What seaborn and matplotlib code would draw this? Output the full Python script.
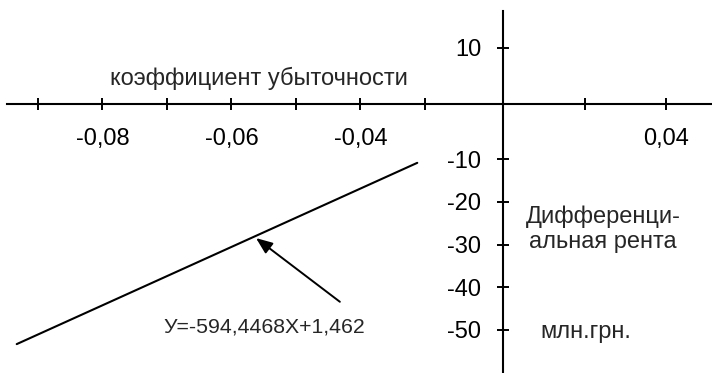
import numpy as np
import seaborn as sns
import matplotlib.pyplot as plt

# regression line
line_x = [-0.0933, -0.0312]
line_y = [-53.3, -10.9]

x_ticks = [-0.09, -0.08, -0.07, -0.06, -0.05, -0.04, -0.03, 0.02, 0.04]
x_tick_labels = ["", "-0,08", "", "-0,06", "", "-0,04", "", "", "0,04"]
y_ticks = [10, -10, -20, -30, -40, -50]
y_tick_labels = ["10", "-10", "-20", "-30", "-40", "-50"]

# arrow pointing at the line
arrow_tip = (-0.0562, -28.5)
arrow_tail = (-0.0432, -43.4)

equation = "У=-594,4468Х+1,462"
x_title = "коэффициент убыточности"
y_title = "Дифференци-\nальная рента"
y_units = "млн.грн."


def piecewise(xp, fp):
    # piecewise linear map with linear extrapolation at both ends
    xp = np.asarray(xp, float)
    fp = np.asarray(fp, float)
    k0 = (fp[1] - fp[0]) / (xp[1] - xp[0])
    k1 = (fp[-1] - fp[-2]) / (xp[-1] - xp[-2])

    def f(v):
        v = np.asarray(v, float)
        out = np.interp(v, xp, fp)
        out = np.where(v < xp[0], fp[0] + (v - xp[0]) * k0, out)
        out = np.where(v > xp[-1], fp[-1] + (v - xp[-1]) * k1, out)
        return out
    return f


# the original drawing has uneven axis spacing, reproduce it with a function scale
xs_data, xs_pix = [-0.09, -0.03, 0.0, 0.04], [38, 425, 503, 666]
ys_data, ys_pix = [-50, -10, 0, 10], [43, 214, 269, 325]
fx, ix = piecewise(xs_data, xs_pix), piecewise(xs_pix, xs_data)
fy, iy = piecewise(ys_data, ys_pix), piecewise(ys_pix, ys_data)

sns.set_style("white")
plt.rcParams["font.family"] = ["Liberation Sans", "DejaVu Sans"]
FS = 17

fig = plt.figure(figsize=(7.12, 3.73), dpi=100)
ax = fig.add_axes([0, 0, 1, 1])
ax.set_xscale("function", functions=(fx, ix))
ax.set_yscale("function", functions=(fy, iy))
ax.set_xlim(float(ix(0)), float(ix(712)))
ax.set_ylim(float(iy(0)), float(iy(373)))

sns.lineplot(x=line_x, y=line_y, ax=ax, color="black", linewidth=1.5)

ax.annotate("", xy=arrow_tip, xytext=arrow_tail,
            arrowprops=dict(arrowstyle="-|>,head_length=0.55,head_width=0.22",
                            color="black", lw=1.4, mutation_scale=18,
                            shrinkA=0, shrinkB=0))

for side in ["top", "right"]:
    ax.spines[side].set_visible(False)
ax.spines["left"].set_position(("data", 0))
ax.spines["bottom"].set_position(("data", 0))
for side in ["left", "bottom"]:
    ax.spines[side].set_linewidth(1.5)
    ax.spines[side].set_color("black")
ax.spines["bottom"].set_bounds(float(ix(7)), float(ix(712)))
ax.spines["left"].set_bounds(float(iy(0)), float(iy(362)))

ax.set_xticks(x_ticks)
ax.set_xticklabels(x_tick_labels)
ax.set_yticks(y_ticks)
ax.set_yticklabels(y_tick_labels)
ax.minorticks_off()
ax.tick_params(axis="x", bottom=True, direction="inout", length=9, width=1.4,
               pad=13, labelsize=FS, colors="black")
ax.tick_params(axis="y", left=True, direction="inout", length=9, width=1.4,
               pad=11, labelsize=FS, colors="black")

ax.text(110 / 712, 1 - 78 / 373, x_title, transform=ax.transAxes,
        ha="left", va="center", fontsize=FS)
ax.text(163 / 712, 1 - 327 / 373, equation, transform=ax.transAxes,
        ha="left", va="center", fontsize=15.3)
ax.text(603 / 712, 1 - 229 / 373, y_title, transform=ax.transAxes,
        ha="center", va="center", multialignment="center", fontsize=FS,
        linespacing=1.2)
ax.text(540 / 712, 1 - 332 / 373, y_units, transform=ax.transAxes,
        ha="left", va="center", fontsize=FS)

fig.savefig("out.png", dpi=100)
